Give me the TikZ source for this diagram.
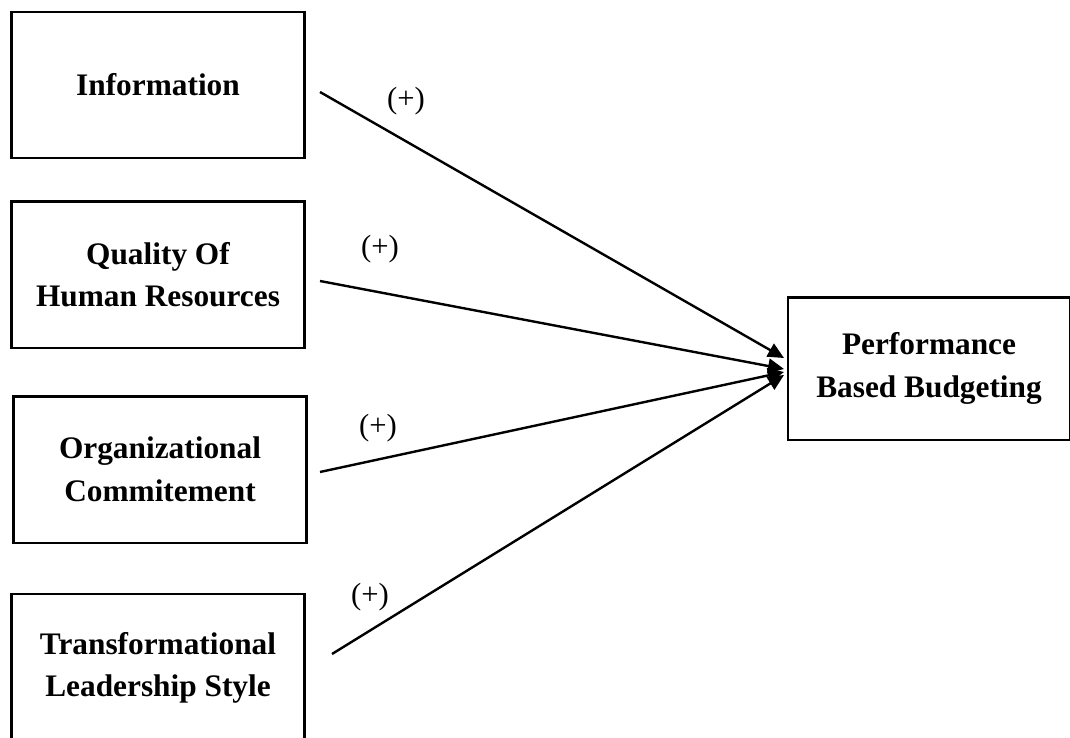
\documentclass[tikz,border=0pt]{standalone}
\usepackage{fontspec}
\setmainfont{Liberation Serif}
\usetikzlibrary{arrows.meta}
\begin{document}
\begin{tikzpicture}[x=0.75pt,y=-0.75pt,
  box/.style={draw,line width=2pt,rectangle,minimum width=219.5pt,align=center,inner sep=0pt,font=\fontsize{23.5}{32}\selectfont\bfseries},
  conn/.style={line width=1.8pt,-{Triangle[length=12pt,width=11pt]}},
  sign/.style={font=\fontsize{23}{28}\selectfont,inner sep=0pt}]
\useasboundingbox (0,0) rectangle (1070,738);
\begin{scope}
\clip (0,0) rectangle (1070,738);
\node[box,minimum height=109.5pt] (info) at (158,85) {Information};
\node[box,minimum height=110pt] (qual) at (158,274.5) {Quality Of\\Human Resources};
\node[box,minimum height=110pt] (org) at (160,469.5) {Organizational\\Commitement};
\node[box,minimum height=111pt] (trans) at (158,668) {Transformational\\Leadership Style};
\node[box,minimum width=211.5pt,minimum height=107pt] (pbb) at (929,368.5) {Performance\\Based Budgeting};
\end{scope}
\coordinate (s1) at (320,92);
\coordinate (s2) at (320,281);
\coordinate (s3) at (320,472);
\coordinate (s4) at (332,654);
\coordinate (e1) at (784,358);
\coordinate (e2) at (784,369);
\coordinate (e3) at (784,372);
\coordinate (e4) at (784,375);
\draw[conn] (s1) -- (e1);
\draw[conn] (s2) -- (e2);
\draw[conn] (s3) -- (e3);
\draw[conn] (s4) -- (e4);
\node[sign] (l1) at (406,101) {(+)};
\node[sign] (l2) at (380,249) {(+)};
\node[sign] (l3) at (378,428) {(+)};
\node[sign] (l4) at (370,597) {(+)};
\end{tikzpicture}
\end{document}
